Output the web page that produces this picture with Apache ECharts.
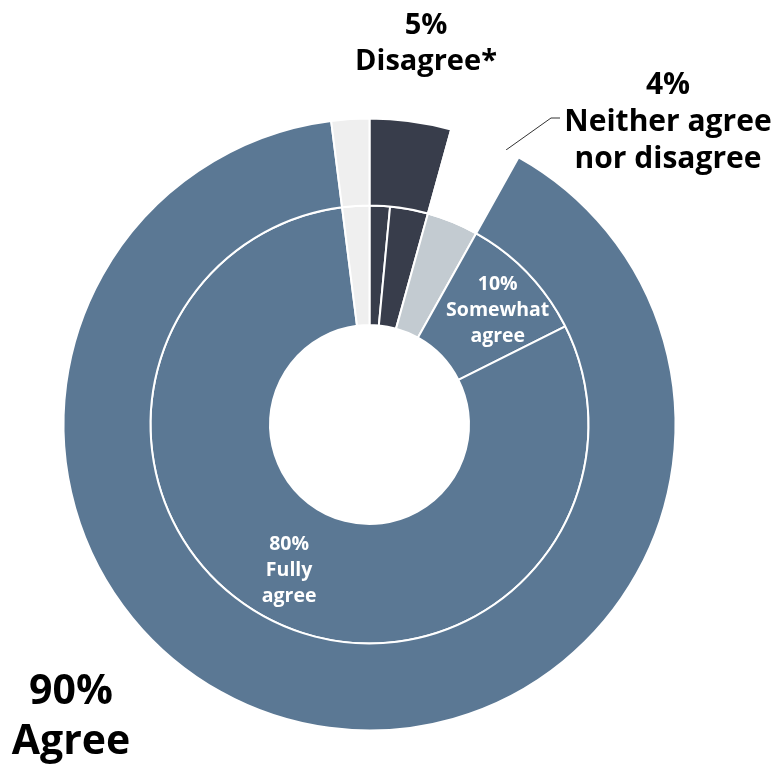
<!DOCTYPE html>
<html><head><meta charset="utf-8">
<script src="https://cdn.jsdelivr.net/npm/echarts@6/dist/echarts.min.js"></script>
<style>html,body{margin:0;padding:0;background:#fff}#c{width:775px;height:766px}</style>
</head><body><div id="c"></div>
<script>
// ---- data ----
const innerCategories = ['Strongly disagree', 'Somewhat disagree', 'Neither agree nor disagree', 'Somewhat agree', 'Fully agree', "Don't know"];
const innerValues = [1.5, 2.8, 3.8, 9.5, 80.4, 2.0];
const innerLabelText = ['', '', '', '10%\nSomewhat\nagree', '80%\nFully\nagree', ''];

const outerCategories = ['Disagree', 'Neither agree nor disagree', 'Agree', "Don't know"];
const outerValues = [4.3, 3.8, 89.9, 2.0];
const outerLabelText = ['5%\nDisagree*', '4%\nNeither agree\nnor disagree', '90%\nAgree', ''];

// ---- styles ----
const innerColors = ['#383d4b', '#383d4b', '#c3cbd1', '#5b7894', '#5b7894', '#efefef'];
const outerColors = ['#383d4b', '#ffffff', '#5b7894', '#efefef'];
const innerLabelShift = [null, null, null, [11, -2], [-4, 3], null];
const outerLabelPos = [[426, 44], [668, 122], [71, 717]];
const outerLabelFont = [[29, 36], [30, 37], [41, 50]];
const FONT = '"Open Sans", "Noto Sans", sans-serif';
const CENTER = [369.5, 424.5];

const chart = echarts.init(document.getElementById('c'), null, {renderer: 'canvas'});

const innerData = innerValues.map((v, i) => ({
  value: v, name: innerCategories[i],
  itemStyle: {color: innerColors[i]},
  label: {show: innerLabelText[i] !== '', formatter: innerLabelText[i]}
}));
const outerData = outerValues.map((v, i) => ({
  value: v, name: outerCategories[i],
  itemStyle: {color: outerColors[i]},
  label: outerLabelText[i] ? {show: true, formatter: outerLabelText[i], fontSize: outerLabelFont[i][0], lineHeight: outerLabelFont[i][1]} : {show: false},
  labelLine: {show: i === 1, lineStyle: {color: '#333', width: 1}}
}));

chart.setOption({
  animation: false,
  backgroundColor: '#ffffff',
  series: [
    {
      type: 'pie', name: 'inner', center: CENTER, radius: [99.5, 219],
      startAngle: 90, clockwise: true, avoidLabelOverlap: false,
      itemStyle: {borderColor: '#ffffff', borderWidth: 2},
      label: {position: 'inside', color: '#ffffff', fontFamily: FONT, fontWeight: 'bold', fontSize: 19.5, lineHeight: 26, align: 'center'},
      labelLine: {show: false},
      emphasis: {disabled: true},
      labelLayout: function (params) {
        const s = innerLabelShift[params.dataIndex];
        return s ? {dx: s[0], dy: s[1]} : {};
      },
      data: innerData
    },
    {
      type: 'pie', name: 'outer', center: CENTER, radius: [219, 306],
      startAngle: 90, clockwise: true, avoidLabelOverlap: false,
      itemStyle: {borderColor: '#ffffff', borderWidth: 2},
      label: {position: 'outside', color: '#000000', fontFamily: FONT, fontWeight: 'bold', align: 'center'},
      emphasis: {disabled: true},
      labelLayout: function (params) {
        const p = outerLabelPos[params.dataIndex];
        if (!p) return {};
        const out = {x: p[0], y: p[1], align: 'center', verticalAlign: 'middle'};
        if (params.dataIndex === 1) out.labelLinePoints = [[506, 150], [551, 118], [560, 118]];
        return out;
      },
      data: outerData
    }
  ]
});
</script>
</body></html>
